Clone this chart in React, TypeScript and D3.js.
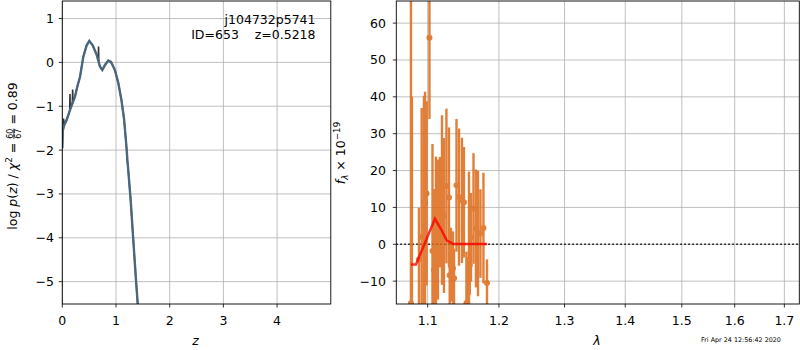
import React from 'react';
import * as d3 from 'd3';

// ---------- Left panel data: log p(z) ----------
const zSmooth = [0, 0.01, 0.04, 0.082, 0.143, 0.2, 0.236, 0.28, 0.33, 0.391, 0.454, 0.503, 0.566, 0.641, 0.702, 0.745, 0.795, 0.857, 0.907, 0.98, 1.043, 1.1, 1.149, 1.186, 1.223, 1.273, 1.322, 1.372, 1.404, 1.45];
const logpSmooth = [-1.96, -1.55, -1.42, -1.31, -1.09, -0.9, -0.78, -0.55, -0.33, 0.13, 0.39, 0.49, 0.39, 0.17, -0.1, -0.175, -0.06, 0.04, 0.01, -0.175, -0.47, -0.85, -1.28, -1.8, -2.38, -3.14, -4.05, -4.96, -5.5, -6.2];
const zRaw = [0, 0.01, 0.018, 0.022, 0.04, 0.082, 0.138, 0.143, 0.148, 0.188, 0.193, 0.198, 0.236, 0.28, 0.33, 0.391, 0.454, 0.503, 0.566, 0.641, 0.67, 0.675, 0.68, 0.702, 0.745, 0.795, 0.857, 0.907, 0.98, 1.043, 1.1, 1.149, 1.186, 1.2, 1.205, 1.223, 1.273, 1.322, 1.372, 1.404, 1.45];
const logpRaw = [-1.96, -1.55, -1.45, -1.28, -1.42, -1.31, -1.1, -0.72, -1.07, -0.91, -0.62, -0.89, -0.78, -0.55, -0.33, 0.13, 0.39, 0.49, 0.39, 0.17, 0.04, 0.36, 0.0, -0.1, -0.175, -0.06, 0.04, 0.01, -0.175, -0.47, -0.85, -1.28, -1.8, -2.0, -2.2, -2.38, -3.14, -4.05, -4.96, -5.5, -6.2];
const zTicks = [0, 1, 2, 3, 4];
const logpTicks = [-5, -4, -3, -2, -1, 0, 1];

// ---------- Right panel data: spectrum ----------
const lam = [1.0778, 1.0791, 1.0884, 1.092, 1.095, 1.0965, 1.0985, 1.1024, 1.1065, 1.1085, 1.1112, 1.1139, 1.1166, 1.1194, 1.1221, 1.1255, 1.129, 1.13, 1.1317, 1.1345, 1.136, 1.1394, 1.1429, 1.147, 1.1498, 1.1533, 1.1545, 1.1569, 1.158, 1.1597, 1.1633, 1.1668, 1.1697, 1.1732, 1.1775, 1.1826];
const flux = [-16.0, -20.0, -4.1, 2.0, 4.7, 11.4, 13.8, 56.0, -1.8, -7.0, 3.8, 4.0, 8.7, 12.0, 7.8, 15.8, 12.7, -8.4, -5.5, -6.5, -9.2, 16.0, 12.8, 11.9, 11.4, -16.0, -15.7, -4.3, -5.7, 1.9, 9.7, 4.3, 2.9, 2.9, 4.4, -10.5];
const fluxErr = [85, 60, 14, 35, 35.6, 30, 25, 22, 29, 22, 20, 19, 15, 23, 21, 21, 19, 8, 10, 10, 8, 18, 18.6, 17, 15, 14, 12, 24, 8, 12, 15, 16, 17, 12, 15, 6.4];
const modelLam = [1.0778, 1.0844, 1.1098, 1.119, 1.1258, 1.1349, 1.1826];
const modelFlux = [-5.5, -5.5, 6.9, 3.8, 1.1, 0.1, 0.1];
const lamTicks = [1.1, 1.2, 1.3, 1.4, 1.5, 1.6, 1.7];
const fluxTicks = [-10, 0, 10, 20, 30, 40, 50, 60];

const FONT = 'DejaVu Sans, sans-serif';
const FS = 12.5;
const GRID = '#b0b0b0';
const fmt = (v: number) => (v < 0 ? '\u2212' + Math.abs(v) : String(v));

export default function App() {
  // left axes
  const L = { x0: 62.3, x1: 330.8, y0: 1, y1: 304 };
  const xL = d3.scaleLinear().domain([0, 5]).range([L.x0, L.x1]);
  const yL = d3.scaleLinear().domain([-5.51, 1.4]).range([L.y1, L.y0]);
  const lineL = d3.line<number>().x((_, i) => xL(zSmooth[i])).y((d) => yL(d));
  const lineRaw = d3.line<number>().x((_, i) => xL(zRaw[i])).y((d) => yL(d));

  // right axes
  const R = { x0: 396.3, x1: 799.3, y0: 1, y1: 304 };
  const xR = d3.scaleLog().domain([1.0587, 1.7313]).range([R.x0, R.x1]);
  const yR = d3.scaleLinear().domain([-16.2, 66]).range([R.y1, R.y0]);
  const lineModel = d3.line<number>().x((_, i) => xR(modelLam[i])).y((d) => yR(d));

  const orange = '#dc6816';

  return (
    <svg width={800} height={350} style={{ position: 'absolute', left: 0, top: 0, background: '#fff' }} fontFamily={FONT}>
      <defs>
        <clipPath id="clipL"><rect x={L.x0} y={L.y0} width={L.x1 - L.x0} height={L.y1 - L.y0} /></clipPath>
        <clipPath id="clipR"><rect x={R.x0} y={R.y0} width={R.x1 - R.x0} height={R.y1 - R.y0} /></clipPath>
      </defs>
      <rect x={0} y={0} width={800} height={350} fill="#fff" />

      {/* ===== Left panel ===== */}
      <g>
        {zTicks.map((t) => (
          <line key={'gx' + t} x1={xL(t)} x2={xL(t)} y1={L.y0} y2={L.y1} stroke={GRID} strokeWidth={0.8} />
        ))}
        {logpTicks.map((t) => (
          <line key={'gy' + t} x1={L.x0} x2={L.x1} y1={yL(t)} y2={yL(t)} stroke={GRID} strokeWidth={0.8} />
        ))}
        <g clipPath="url(#clipL)">
          <path d={lineRaw(logpRaw) || ''} fill="none" stroke="#333333" strokeWidth={1.6} />
          <path d={lineL(logpSmooth) || ''} fill="none" stroke="#4a6880" strokeWidth={2.4} strokeOpacity={0.95} />
        </g>
        <rect x={L.x0} y={L.y0} width={L.x1 - L.x0} height={L.y1 - L.y0} fill="none" stroke="#000" strokeWidth={0.9} />
        {zTicks.map((t) => (
          <g key={'tx' + t}>
            <line x1={xL(t)} x2={xL(t)} y1={L.y1} y2={L.y1 + 3.5} stroke="#000" strokeWidth={0.8} />
            <text x={xL(t)} y={325} fontSize={FS} textAnchor="middle">{fmt(t)}</text>
          </g>
        ))}
        {logpTicks.map((t) => (
          <g key={'ty' + t}>
            <line x1={L.x0 - 3.5} x2={L.x0} y1={yL(t)} y2={yL(t)} stroke="#000" strokeWidth={0.8} />
            <text x={54} y={yL(t)} dy="0.36em" fontSize={FS} textAnchor="end">{fmt(t)}</text>
          </g>
        ))}
        <text x={315.5} y={24} fontSize={FS} textAnchor="end">j104732p5741</text>
        <text x={315.5} y={38.5} fontSize={FS} textAnchor="end" style={{ whiteSpace: 'pre' }}>{'ID=653    z=0.5218'}</text>
        <text x={xL(2.48)} y={345} fontSize={FS} textAnchor="middle" fontStyle="italic">z</text>
        <text transform="translate(16.5,156) rotate(-90)" fontSize={FS} textAnchor="middle" style={{ whiteSpace: 'pre' }}>
          <tspan>log </tspan>
          <tspan fontStyle="italic">p</tspan>
          <tspan>(</tspan>
          <tspan fontStyle="italic">z</tspan>
          <tspan>) / </tspan>
          <tspan fontStyle="italic">χ</tspan>
          <tspan fontSize={8.8} dy={-5}>2</tspan>
          <tspan dy={5}> = </tspan>
          <tspan fontSize={8} dy={-4} textDecoration="underline">60</tspan>
          <tspan fontSize={8} dx={-10.2} dy={8}>67</tspan>
          <tspan dy={-4}> = 0.89</tspan>
        </text>
      </g>

      {/* ===== Right panel ===== */}
      <g>
        {lamTicks.map((t) => (
          <line key={'rgx' + t} x1={xR(t)} x2={xR(t)} y1={R.y0} y2={R.y1} stroke={GRID} strokeWidth={0.8} />
        ))}
        {fluxTicks.map((t) => (
          <line key={'rgy' + t} x1={R.x0} x2={R.x1} y1={yR(t)} y2={yR(t)} stroke={GRID} strokeWidth={0.8} />
        ))}
        <g clipPath="url(#clipR)">
          <line x1={R.x0} x2={R.x1} y1={yR(0)} y2={yR(0)} stroke="#000" strokeWidth={1.5} strokeDasharray="1.5,2.5" />
          <g opacity={0.85}>
            {lam.map((l, i) => (
              <line key={'eb' + i} x1={xR(l)} x2={xR(l)} y1={yR(flux[i] + fluxErr[i])} y2={yR(flux[i] - fluxErr[i])} stroke={orange} strokeWidth={2.4} />
            ))}
            {lam.map((l, i) => (
              <circle key={'pt' + i} cx={xR(l)} cy={yR(flux[i])} r={3} fill={orange} />
            ))}
          </g>
          <path d={lineModel(modelFlux) || ''} fill="none" stroke="#ff0000" strokeOpacity={0.8} strokeWidth={2.5} />
        </g>
        <rect x={R.x0} y={R.y0} width={R.x1 - R.x0} height={R.y1 - R.y0} fill="none" stroke="#000" strokeWidth={0.9} />
        {lamTicks.map((t) => (
          <g key={'rtx' + t}>
            <line x1={xR(t)} x2={xR(t)} y1={R.y1} y2={R.y1 + 3.5} stroke="#000" strokeWidth={0.8} />
            <text x={xR(t)} y={325} fontSize={FS} textAnchor="middle">{t.toFixed(1)}</text>
          </g>
        ))}
        {fluxTicks.map((t) => (
          <g key={'rty' + t}>
            <line x1={R.x0 - 3.5} x2={R.x0} y1={yR(t)} y2={yR(t)} stroke="#000" strokeWidth={0.8} />
            <text x={386} y={yR(t)} dy="0.36em" fontSize={FS} textAnchor="end">{fmt(t)}</text>
          </g>
        ))}
        <text x={597} y={345} fontSize={FS} textAnchor="middle" fontStyle="italic">λ</text>
        <text transform="translate(345,153) rotate(-90)" fontSize={FS} textAnchor="middle" style={{ whiteSpace: 'pre' }}>
          <tspan fontStyle="italic">f</tspan>
          <tspan fontStyle="italic" fontSize={8.8} dy={3}>λ</tspan>
          <tspan dy={-3}> × 10</tspan>
          <tspan fontSize={8.8} dy={-5}>−19</tspan>
        </text>
        <text x={701} y={342} fontSize={6.4}>Fri Apr 24 12:56:42 2020</text>
      </g>
    </svg>
  );
}
